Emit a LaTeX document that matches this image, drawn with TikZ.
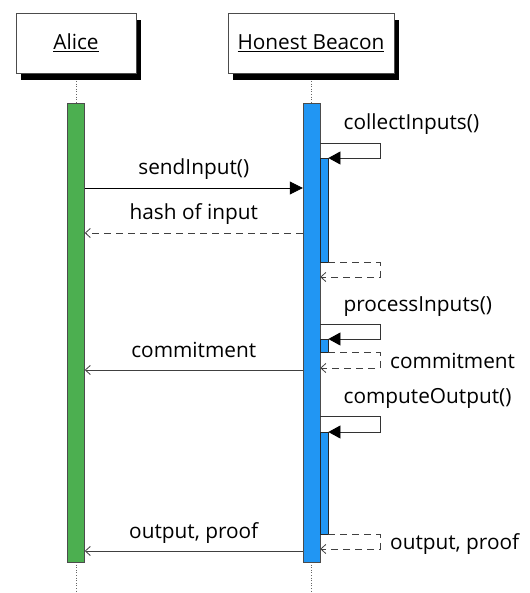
\documentclass[tikz,border=0pt]{standalone}
\usepackage{fontspec}
\setmainfont{Open Sans}
\usepackage{tikz}
\usetikzlibrary{arrows.meta}
\usetikzlibrary{shadows}
\usetikzlibrary{backgrounds}
\definecolor{alice_green}{HTML}{4CAF50}
\definecolor{beacon_blue}{HTML}{2196F3}

\begin{document}
\begin{tikzpicture}[x=1pt,y=-1pt,
  font=\fontsize{20.8}{25}\selectfont,
  actor/.style={rectangle,draw=black!70,fill=white,minimum height=60pt,inner sep=0pt,drop shadow={shadow xshift=5pt,shadow yshift=-7pt,fill=black,opacity=1}},
  act/.style={rectangle,draw=black!70,anchor=north,minimum width=17pt,inner sep=0pt},
  subact/.style={rectangle,draw=black!85,fill=beacon_blue,anchor=north west,minimum width=8pt,inner sep=0pt},
  lifeline/.style={draw=black!60,dotted,line width=0.6pt},
  call/.style={draw=black,line width=0.8pt,-{Triangle[length=13pt,width=13pt]}},
  reply/.style={draw=black!75,line width=0.8pt,-{Straight Barb[length=5pt,width=9pt]}},
  dreply/.style={reply,dash pattern=on 7pt off 5pt},
  selfcall/.style={draw=black!80,line width=0.8pt,-{Triangle[length=12pt,width=13pt,color=black]}},
  msg/.style={anchor=base,yshift=13pt,inner sep=0pt},
  note/.style={anchor=base west,inner sep=0pt}
  ]

\useasboundingbox (0,0) rectangle (529,593);

% participants
\node[actor,minimum width=120pt] (alice) at (76,43) {\underline{Alice}};
\node[actor,minimum width=166pt] (beacon) at (311,43) {\underline{Honest Beacon}};
\coordinate (bottom) at (0,593);

% activations
\node[act,fill=alice_green,minimum height=459pt] (aact) at (76,103) {};
\node[act,fill=beacon_blue,minimum height=459pt] (bact) at (311.5,103) {};
\node[subact,minimum height=104pt] (sub1) at (320,158) {};
\node[subact,minimum height=13pt] (sub2) at (320,339) {};
\node[subact,minimum height=102pt] (sub3) at (320,432) {};

% lifelines
\begin{scope}[on background layer]
\draw[lifeline] (alice.south) -- (alice.south |- bottom);
\draw[lifeline] (beacon.south) -- (beacon.south |- bottom);
\end{scope}

% message heights
\coordinate (m1) at (0,188);
\coordinate (m2) at (0,233);
\coordinate (m3) at (0,370);
\coordinate (m4) at (0,551);

% self calls
\coordinate (c1) at (380,143);
\coordinate (c2) at (380,324);
\coordinate (c3) at (380,416);
\coordinate (r1) at (380,277);
\coordinate (r2) at (380,368);
\coordinate (r3) at (380,549);

% alice <-> beacon
\draw[call] (aact.east |- m1) -- node[msg] {sendInput()} (bact.west |- m1);
\draw[dreply] (bact.west |- m2) -- node[msg] {hash of input} (aact.east |- m2);
\draw[reply] (bact.west |- m3) -- node[msg] {commitment} (aact.east |- m3);
\draw[reply] (bact.west |- m4) -- node[msg] {output, proof} (aact.east |- m4);

% beacon -> beacon
\draw[selfcall] (bact.east |- c1) node[note,xshift=23pt,yshift=13pt] {collectInputs()} -- (c1) |- (sub1.north east);
\draw[dreply] (sub1.south east) -| (r1) -- (bact.east |- r1);

\draw[selfcall] (bact.east |- c2) node[note,xshift=23pt,yshift=13pt] {processInputs()} -- (c2) |- (sub2.north east);
\draw[dreply] (sub2.south east) -| (r2) -- (bact.east |- r2);
\node[note] (commitnote) at ([xshift=10pt]r2) {commitment};

\draw[selfcall] (bact.east |- c3) node[note,xshift=23pt,yshift=13pt] {computeOutput()} -- (c3) |- (sub3.north east);
\draw[dreply] (sub3.south east) -| (r3) -- (bact.east |- r3);
\node[note] (outnote) at ([xshift=10pt]r3) {output, proof};

\end{tikzpicture}
\end{document}
